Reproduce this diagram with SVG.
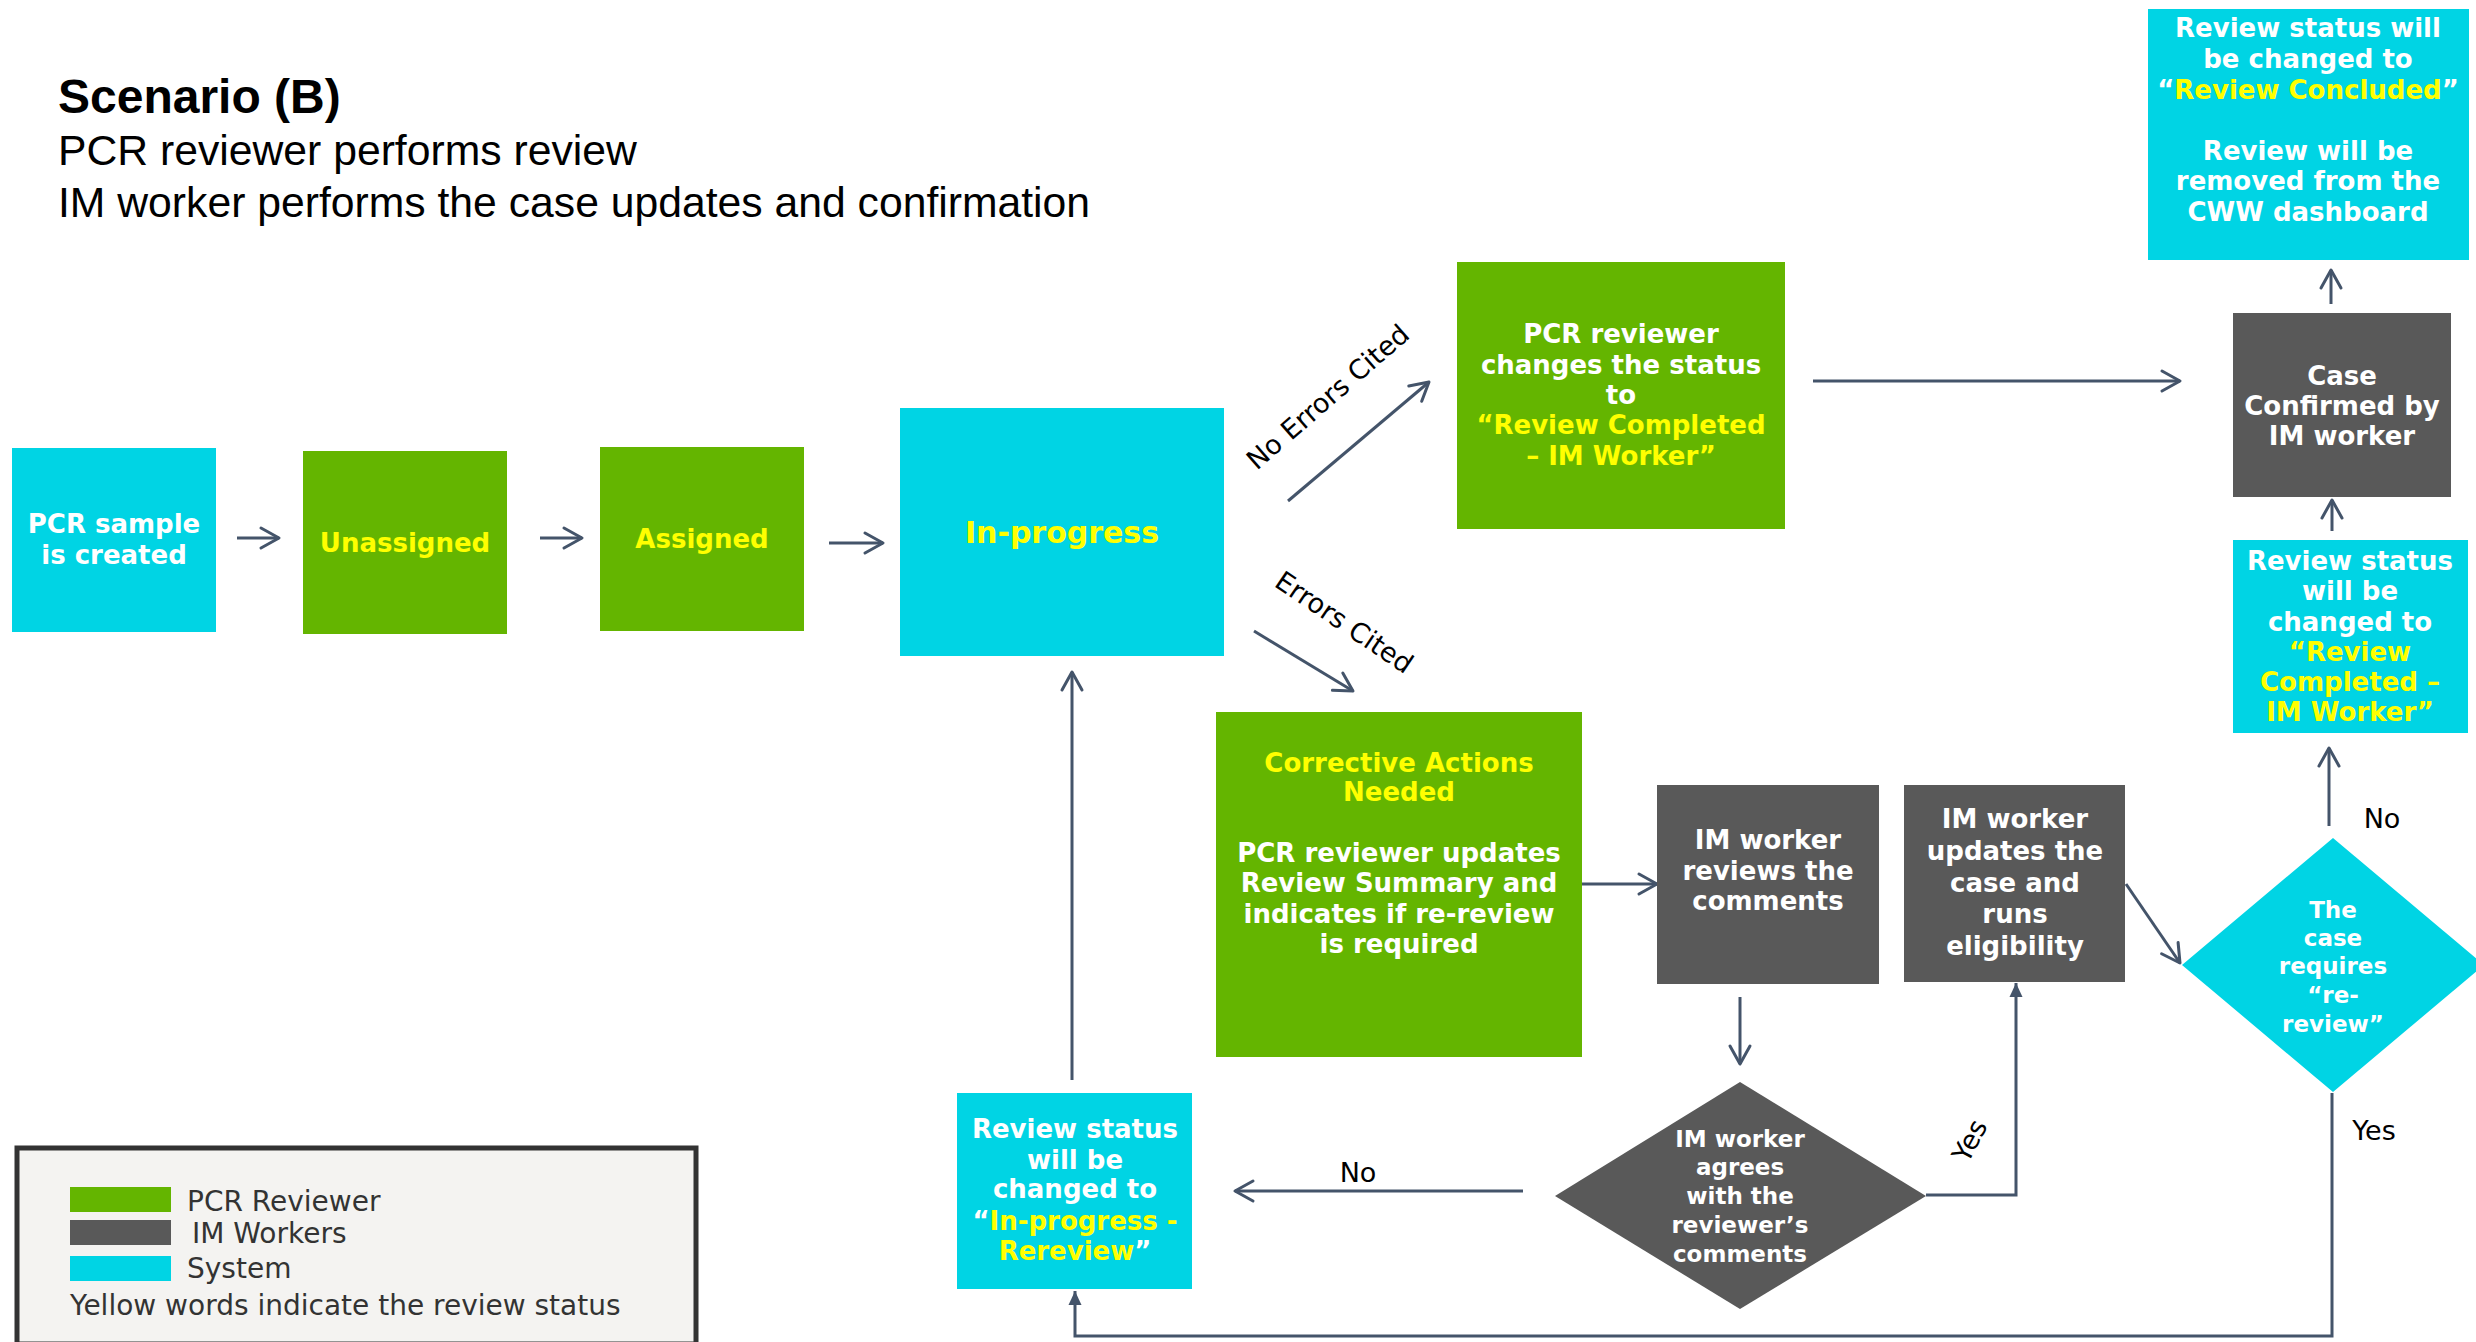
<svg xmlns="http://www.w3.org/2000/svg" width="2476" height="1342" viewBox="0 0 2476 1342">
<style>
.cy{fill:#00D4E4}
.gr{fill:#64B500}
.dk{fill:#595959}
.nt{font-family:"DejaVu Sans",Verdana,sans-serif;font-weight:bold;font-size:26px;fill:#FFFFFF;text-anchor:middle}
.sm{font-size:23px}
.big{font-size:30px}
.y{fill:#FFFF00}
.lb{font-family:"DejaVu Sans",Verdana,sans-serif;font-size:27px;fill:#000000;text-anchor:middle}
.lg{font-family:"DejaVu Sans",Verdana,sans-serif;font-size:28px;fill:#333333}
.hd{font-family:"Liberation Sans",Arial,sans-serif;fill:#000000}
.c{fill:none;stroke:#44546A;stroke-width:3}
.o{marker-end:url(#open)}
.f{marker-end:url(#fill)}
</style>
<defs>
<marker id="open" viewBox="-22 -12 24 24" refX="0" refY="0" markerWidth="24" markerHeight="24" markerUnits="userSpaceOnUse" orient="auto" overflow="visible">
<path d="M-18,-10 L0,0 L-18,10" fill="none" stroke="#44546A" stroke-width="3" stroke-linecap="round" stroke-linejoin="round"/>
</marker>
<marker id="fill" viewBox="-16 -8 18 16" refX="0" refY="0" markerWidth="18" markerHeight="16" markerUnits="userSpaceOnUse" orient="auto" overflow="visible">
<path d="M-14,-6.5 L0,0 L-14,6.5 Z" fill="#44546A"/>
</marker>
</defs>
<rect width="2476" height="1342" fill="#FFFFFF"/>

<g id="title">
<text class="hd" x="58" y="113" font-size="48" font-weight="bold">Scenario (B)</text>
<text class="hd" x="58" y="165" font-size="42.7">PCR reviewer performs review</text>
<text class="hd" x="58" y="217" font-size="42.7">IM worker performs the case updates and confirmation</text>
</g>

<g id="connectors">
<line class="c o" x1="237" y1="538" x2="279" y2="538"/>
<line class="c o" x1="540" y1="538" x2="582" y2="538"/>
<line class="c o" x1="829" y1="543" x2="883" y2="543"/>
<line class="c o" x1="1288" y1="501" x2="1429" y2="382"/>
<line class="c o" x1="1254" y1="631" x2="1353" y2="691"/>
<line class="c o" x1="1813" y1="381" x2="2180" y2="381"/>
<line class="c o" x1="2331" y1="304" x2="2331" y2="270"/>
<line class="c o" x1="2332" y1="531" x2="2332" y2="500"/>
<line class="c o" x1="2329" y1="826" x2="2329" y2="748"/>
<line class="c o" x1="2126" y1="884" x2="2180" y2="963"/>
<line class="c o" x1="1582" y1="884" x2="1657" y2="884"/>
<line class="c o" x1="1740" y1="997" x2="1740" y2="1064"/>
<path class="c f" d="M1926,1195 H2016 V983"/>
<line class="c o" x1="1523" y1="1191" x2="1235" y2="1191"/>
<path class="c f" d="M2332,1093 V1336 H1075 V1291"/>
<line class="c o" x1="1072" y1="1080" x2="1072" y2="672"/>
<text class="lb" transform="translate(1334,404) rotate(-41)" x="0" y="0">No Errors Cited</text>
<text class="lb" transform="translate(1339,630) rotate(34)" x="0" y="0">Errors Cited</text>
<text class="lb" x="2382" y="828">No</text>
<text class="lb" x="2374" y="1140">Yes</text>
<text class="lb" x="1358" y="1182">No</text>
<text class="lb" transform="translate(1978,1145) rotate(-62)" x="0" y="0">Yes</text>
</g>

<g id="n-sample">
<rect class="cy" x="12" y="448" width="204" height="184"/>
<text class="nt" x="114" y="533">PCR sample</text>
<text class="nt" x="114" y="564">is created</text>
</g>

<g id="n-unassigned">
<rect class="gr" x="303" y="451" width="204" height="183"/>
<text class="nt y" x="405" y="552">Unassigned</text>
</g>

<g id="n-assigned">
<rect class="gr" x="600" y="447" width="204" height="184"/>
<text class="nt y" x="702" y="548">Assigned</text>
</g>

<g id="n-inprogress">
<rect class="cy" x="900" y="408" width="324" height="248"/>
<text class="nt big y" x="1062" y="543">In-progress</text>
</g>

<g id="n-changes">
<rect class="gr" x="1457" y="262" width="328" height="267"/>
<text class="nt" x="1621" y="343">PCR reviewer</text>
<text class="nt" x="1621" y="374">changes the status</text>
<text class="nt" x="1621" y="404">to</text>
<text class="nt y" x="1621" y="434">“Review Completed</text>
<text class="nt y" x="1621" y="465">– IM Worker”</text>
</g>

<g id="n-confirmed">
<rect class="dk" x="2233" y="313" width="218" height="184"/>
<text class="nt" x="2342" y="385">Case</text>
<text class="nt" x="2342" y="415">Confirmed by</text>
<text class="nt" x="2342" y="445">IM worker</text>
</g>

<g id="n-concluded">
<rect class="cy" x="2148" y="9" width="321" height="251"/>
<text class="nt" x="2308" y="37">Review status will</text>
<text class="nt" x="2308" y="68">be changed to</text>
<text class="nt" x="2308" y="99">“<tspan class="y">Review Concluded</tspan>”</text>
<text class="nt" x="2308" y="160">Review will be</text>
<text class="nt" x="2308" y="190">removed from the</text>
<text class="nt" x="2308" y="221">CWW dashboard</text>
</g>

<g id="n-completed">
<rect class="cy" x="2233" y="540" width="235" height="193"/>
<text class="nt" x="2350" y="570">Review status</text>
<text class="nt" x="2350" y="600">will be</text>
<text class="nt" x="2350" y="631">changed to</text>
<text class="nt y" x="2350" y="661">“Review</text>
<text class="nt y" x="2350" y="691">Completed –</text>
<text class="nt y" x="2350" y="721">IM Worker”</text>
</g>

<g id="n-rereview">
<polygon class="cy" points="2333,838 2484,965 2333,1092 2182,965"/>
<text class="nt sm" x="2333" y="918">The</text>
<text class="nt sm" x="2333" y="946">case</text>
<text class="nt sm" x="2333" y="974">requires</text>
<text class="nt sm" x="2333" y="1003">“re-</text>
<text class="nt sm" x="2333" y="1032">review”</text>
</g>

<g id="n-corrective">
<rect class="gr" x="1216" y="712" width="366" height="345"/>
<text class="nt y" x="1399" y="772">Corrective Actions</text>
<text class="nt y" x="1399" y="801">Needed</text>
<text class="nt" x="1399" y="862">PCR reviewer updates</text>
<text class="nt" x="1399" y="892">Review Summary and</text>
<text class="nt" x="1399" y="923">indicates if re-review</text>
<text class="nt" x="1399" y="953">is required</text>
</g>

<g id="n-reviews">
<rect class="dk" x="1657" y="785" width="222" height="199"/>
<text class="nt" x="1768" y="849">IM worker</text>
<text class="nt" x="1768" y="880">reviews the</text>
<text class="nt" x="1768" y="910">comments</text>
</g>

<g id="n-updates">
<rect class="dk" x="1904" y="785" width="221" height="197"/>
<text class="nt" x="2015" y="828">IM worker</text>
<text class="nt" x="2015" y="860">updates the</text>
<text class="nt" x="2015" y="892">case and</text>
<text class="nt" x="2015" y="923">runs</text>
<text class="nt" x="2015" y="955">eligibility</text>
</g>

<g id="n-agrees">
<polygon class="dk" points="1740,1082 1926,1196 1740,1309 1555,1196"/>
<text class="nt sm" x="1740" y="1147">IM worker</text>
<text class="nt sm" x="1740" y="1175">agrees</text>
<text class="nt sm" x="1740" y="1204">with the</text>
<text class="nt sm" x="1740" y="1233">reviewer’s</text>
<text class="nt sm" x="1740" y="1262">comments</text>
</g>

<g id="n-inprogress-rereview">
<rect class="cy" x="957" y="1093" width="235" height="196"/>
<text class="nt" x="1075" y="1138">Review status</text>
<text class="nt" x="1075" y="1169">will be</text>
<text class="nt" x="1075" y="1198">changed to</text>
<text class="nt" x="1075" y="1230">“<tspan class="y">In-progress -</tspan></text>
<text class="nt" x="1075" y="1260"><tspan class="y">Rereview</tspan>”</text>
</g>

<g id="legend">
<rect x="17" y="1148" width="679" height="196" fill="#F4F3F1" stroke="#333333" stroke-width="5"/>
<rect class="gr" x="70" y="1187" width="101" height="25"/>
<rect class="dk" x="70" y="1220" width="101" height="25"/>
<rect class="cy" x="70" y="1256" width="101" height="25"/>
<text class="lg" x="187" y="1211">PCR Reviewer</text>
<text class="lg" x="192" y="1243">IM Workers</text>
<text class="lg" x="187" y="1278">System</text>
<text class="lg" x="70" y="1315">Yellow words indicate the review status</text>
</g>
</svg>
